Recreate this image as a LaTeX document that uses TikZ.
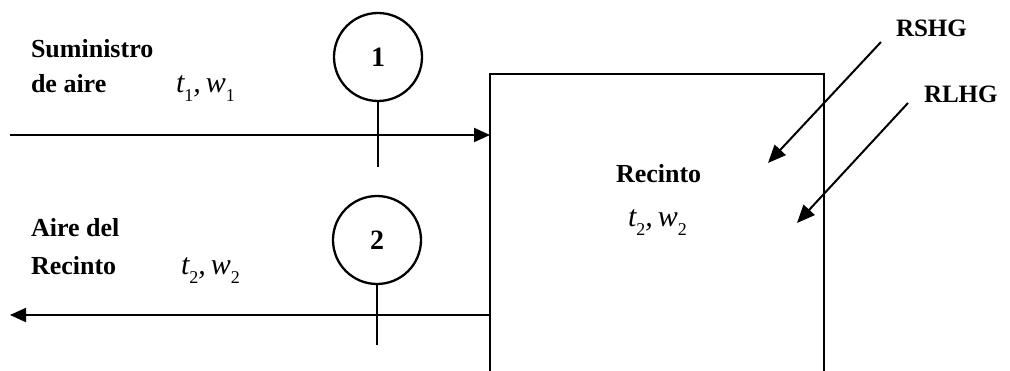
\documentclass[tikz,border=0pt]{standalone}
\usepackage{fontspec}
\setmainfont{Liberation Serif}
\usetikzlibrary{arrows.meta}
\newcommand\subsc[1]{\raisebox{-0.27em}{\fontsize{18}{20}\selectfont\upshape #1}}
\newcommand\tw[3]{{\fontsize{30}{32}\selectfont\itshape #1\subsc{#3},\,#2\subsc{#3}}}
\begin{document}
\begin{tikzpicture}[x=1pt,y=-1pt, line width=2pt,
  >={Triangle[length=16pt,width=14pt]},
  gain/.style={-{Triangle[length=18pt,width=15pt]}},
  lbl/.style={font=\fontsize{26}{28}\selectfont\bfseries, inner sep=0, anchor=base west},
  hg/.style={font=\fontsize{25}{27}\selectfont\bfseries, inner sep=0, anchor=base west},
  mathlbl/.style={inner sep=0, anchor=base west},
  stn/.style={circle, draw, line width=2.3pt, minimum size=88pt, inner sep=0,
    font=\fontsize{28}{30}\selectfont\bfseries}]
\useasboundingbox (0,0) rectangle (1010,371);
% room box (bottom edge lies beyond the page)
\node[draw, line width=2.2pt, minimum width=334pt, minimum height=320pt, anchor=north west,
  inner sep=0, outer sep=0] (room) at (490,74) {};
% stations
\node[stn] (c1) at (378,57) {1};
\node[stn] (c2) at (377,240) {2};
\coordinate (t1) at (378,167);
\coordinate (t2) at (377,345);
\draw (c1.south) -- (t1);
\draw (c2.south) -- (t2);
% supply and return air
\coordinate (in) at (10,135);
\coordinate (out) at (10,315);
\draw[->] (in) -- (room.north west |- in);
\draw[->] (room.north west |- out) -- (out);
% left labels
\node[lbl] (sum) at (30,58) {Suministro};
\node[lbl] (dea) at (30,93) {de aire};
\node[mathlbl] (s1) at (175,93) {\tw{t}{w}{1}};
\node[lbl] (aid) at (30,237) {Aire del};
\node[lbl] (rec) at (30,275) {Recinto};
\node[mathlbl] (s2) at (180,275) {\tw{t}{w}{2}};
% room labels
\node[lbl] (rlab) at (615,183) {Recinto};
\node[mathlbl] (rs) at (627,227) {\tw{t}{w}{2}};
% heat gains
\node[hg] (rshg) at (895,37) {RSHG};
\node[hg] (rlhg) at (923,103) {RLHG};
\coordinate (a1) at (881,42);
\coordinate (b1) at (768,163);
\coordinate (a2) at (908,103);
\coordinate (b2) at (797,223);
\draw[gain] (a1) -- (b1);
\draw[gain] (a2) -- (b2);
\end{tikzpicture}
\end{document}
